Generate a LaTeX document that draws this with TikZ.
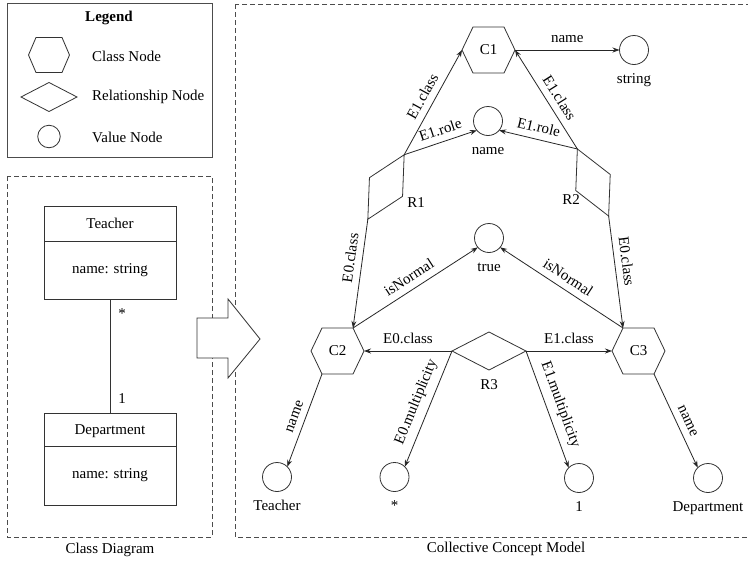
\documentclass[tikz,border=0pt]{standalone}
\usepackage{fontspec}
\setmainfont{Liberation Serif}
\usetikzlibrary{shapes.geometric, arrows.meta, calc}
\tikzset{
 base/.style={font=\fontsize{15}{18}\selectfont, text=black},
 shp/.style={draw=black!80, line width=0.8pt},
 hexnode/.style={base, rectangle, inner sep=0, outer sep=0, minimum width=53, minimum height=46},
 lhexnode/.style={hexnode, minimum width=41, minimum height=35},
 reldia/.style={diamond, shp, inner sep=0, outer sep=0, minimum width=74, minimum height=38},
 valnode/.style={circle, shp, inner sep=0, outer sep=0, minimum size=29},
 vlab/.style={base, inner sep=0, text height=10, text depth=3},
 conn/.style={draw=black!85, line width=0.8pt, -{Stealth[length=7pt,width=5pt]}},
 el/.style={base, inner sep=1.5, sloped, above=5pt},
 frame/.style={draw=black!70, line width=0.8pt},
 dframe/.style={frame, dash pattern=on 5pt off 3pt},
 txt/.style={base, inner sep=0},
 cls/.style={base, shp, rectangle, minimum width=132, inner sep=0, outer sep=0},
}
\newcommand{\drawhex}[2]{\draw[shp] (#1.west) -- ([xshift=#2]#1.north west) -- ([xshift=-#2]#1.north east) -- (#1.east) -- ([xshift=-#2]#1.south east) -- ([xshift=#2]#1.south west) -- cycle;}
\begin{document}
\begin{tikzpicture}[x=1pt,y=-1pt]
\useasboundingbox (0,0) rectangle (748,563);
\fill[white] (0,0) rectangle (748,563);

% Legend
\draw[frame] (7,3) rectangle (212,157);
\node[base, font=\fontsize{15}{18}\selectfont\bfseries] (legtitle) at (109,18) {Legend};
\node[lhexnode] (lhex) at (49,55) {};
\drawhex{lhex}{7.5}
\node[reldia, minimum width=56, minimum height=29] (ldia) at (49,97) {};
\node[valnode, minimum size=22.5] (lcirc) at (49,136.5) {};
\node[txt, anchor=west] (lt1) at (92,56) {Class Node};
\node[txt, anchor=west] (lt2) at (92,97) {Relationship Node};
\node[txt, anchor=west] (lt3) at (92,137) {Value Node};

% Class diagram
\draw[dframe] (7,176) rectangle (212,537);
\node[txt] (cdcap) at (110,550) {Class Diagram};
\node[cls, minimum height=35, text depth=-2pt] (tH) at (110,223.5) {Teacher};
\node[cls, minimum height=58] (tB) at (110,270) {name: string};
\node[cls, minimum height=33, text depth=-2pt] (dH) at (110,429.5) {Department};
\node[cls, minimum height=59] (dB) at (110,475.5) {name: string};
\draw[shp] (tB.south) -- node[txt, pos=0.13, right=8pt] {*} node[txt, pos=0.87, right=8pt] {1} (dH.north);

% Collective concept model frame
\draw[dframe] (235,4) rectangle (752,537);
\node[txt] (ccmcap) at (506,549) {Collective Concept Model};

% Big arrow
\draw[shp, fill=white] (197,318) -- (228,318) -- (228,299) -- (260,339) -- (228,378) -- (228,358) -- (197,358) -- cycle;

% Class nodes
\node[hexnode] (C1) at (488.5,50) {C1};
\drawhex{C1}{11}
\node[hexnode] (C2) at (337.5,351) {C2};
\drawhex{C2}{11}
\node[hexnode] (C3) at (638.5,351) {C3};
\drawhex{C3}{11}

% Relationship nodes
\node[reldia, rotate=60.6] (R1) at (386,187) {};
\node[reldia, rotate=115] (R2) at (593,182.5) {};
\node[reldia] (R3) at (489,351) {};
\node[txt] (R1l) at (416,203) {R1};
\node[txt] (R2l) at (571,200) {R2};
\node[txt] (R3l) at (489,385) {R3};

% Value nodes
\node[valnode] (vstr) at (634,50) {};
\node[vlab] (vstrl) at (634,79.5) {string};
\node[valnode] (vname) at (488,121) {};
\node[vlab] (vnamel) at (488,150.5) {name};
\node[valnode] (vtrue) at (489,238) {};
\node[vlab] (vtruel) at (489,267.5) {true};
\node[valnode] (vteach) at (277,477) {};
\node[vlab] (vteachl) at (277,506.5) {Teacher};
\node[valnode] (vstar) at (394.5,477) {};
\node[vlab] (vstarl) at (394.5,506.5) {*};
\node[valnode] (vone) at (579,478) {};
\node[vlab] (vonel) at (579,507.5) {1};
\node[valnode] (vdept) at (708,478) {};
\node[vlab] (vdeptl) at (708,507.5) {Department};

% Connectors
\draw[conn] (C1.east) -- node[el]{name} (vstr.west);
\draw[conn] (R1.east) -- node[el, pos=0.5]{E1.class} (C1.west);
\draw[conn] (R1.east) -- node[el, pos=0.55]{E1.role} (vname.220);
\draw[conn] (R2.east) -- node[el, pos=0.45]{E1.class} (C1.east);
\draw[conn] (R2.east) -- node[el, pos=0.53]{E1.role} (vname.320);
\draw[conn] (R1.west) -- node[el, pos=0.37]{E0.class} ([xshift=-11]C2.north east);
\draw[conn] (R2.west) -- node[el, pos=0.42]{E0.class} ([xshift=11]C3.north west);
\draw[conn] ([xshift=-11]C2.north east) -- node[el]{isNormal} (vtrue.220);
\draw[conn] ([xshift=11]C3.north west) -- node[el]{isNormal} (vtrue.320);
\draw[conn] (R3.west) -- node[el]{E0.class} (C2.east);
\draw[conn] (R3.east) -- node[el]{E1.class} (C3.west);
\draw[conn] (R3.west) -- node[el, pos=0.485]{E0.multiplicity} (vstar.45);
\draw[conn] (R3.east) -- node[el]{E1.multiplicity} (vone.135);
\draw[conn] ([xshift=11]C2.south west) -- node[el]{name} (vteach.45);
\draw[conn] ([xshift=-11]C3.south east) -- node[el, pos=0.55]{name} (vdept.135);
\end{tikzpicture}
\end{document}
